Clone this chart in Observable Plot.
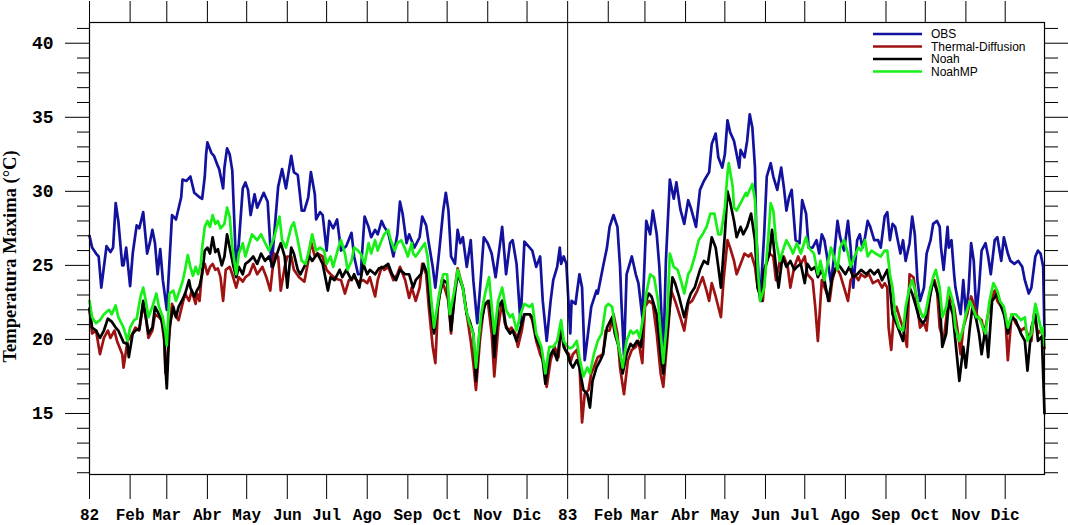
<!DOCTYPE html>
<html><head><meta charset="utf-8">
<script src="https://cdn.jsdelivr.net/npm/d3@7"></script>
<script src="https://cdn.jsdelivr.net/npm/@observablehq/plot@0.6"></script>
<style>body{margin:0;background:#fff}#chart{width:1068px;height:525px}</style>
</head><body><div id="chart"></div>
<script>
const seriesNames = ["OBS","Thermal-Diffusion","Noah","NoahMP"];
const seriesColors = ["#12129e","#9e1212","#000000","#16f016"];
const monthDays = [0,31,59,90,120,151,181,212,243,273,304,334,365,396,424,455,485,516,546,577,608,638,669,699];
const monthLabels = ["82","Feb","Mar","Abr","May","Jun","Jul","Ago","Sep","Oct","Nov","Dic","83","Feb","Mar","Abr","May","Jun","Jul","Ago","Sep","Oct","Nov","Dic"];
const yMajor = [15,20,25,30,35,40];
const yMinor = [11,12,13,14,16,17,18,19,21,22,23,24,26,27,28,29,31,32,33,34,36,37,38,39,41];
const yearBreak = [365];
const yLabel = "Temperatura Maxima (°C)";

// [day since 1 Jan 1982, temperature]
const obs = [[0,27.0],[2,26.2],[5,25.8],[7,25.6],[9,23.5],[13,26.3],[16,25.9],[18,26.2],[20,29.2],[22,28.0],[25,25.0],[26,25.0],[28,26.2],[31,23.6],[33,25.8],[36,27.7],[38,27.5],[41,28.6],[44,25.8],[46,26.5],[48,27.4],[50,26.5],[52,24.4],[54,26.1],[56,24.0],[59,22.0],[63,28.4],[66,28.1],[70,29.6],[71,30.8],[74,30.7],[77,31.0],[80,29.9],[84,29.6],[86,29.5],[88,31.0],[89,32.5],[90,33.3],[93,32.6],[95,32.4],[98,31.7],[99,31.5],[102,30.2],[103,31.6],[105,32.9],[107,32.5],[109,31.4],[112,24.7],[114,26.5],[117,30.2],[119,30.6],[121,30.1],[123,28.4],[126,29.8],[128,28.9],[131,29.5],[133,29.9],[136,29.3],[139,24.9],[141,27.1],[144,30.3],[147,31.5],[150,30.2],[154,32.4],[156,31.3],[159,31.1],[162,28.7],[164,28.7],[167,29.6],[169,31.3],[172,29.8],[173,28.1],[176,28.6],[178,28.4],[181,26.0],[183,28.0],[186,27.5],[189,28.1],[192,26.0],[196,26.3],[200,27.2],[202,25.6],[205,24.4],[207,24.4],[210,28.3],[213,27.6],[215,26.9],[218,27.4],[220,27.1],[223,28.0],[225,27.6],[228,27.2],[232,25.6],[235,27.1],[237,29.3],[239,28.5],[242,26.5],[244,27.1],[248,26.2],[252,26.9],[254,28.3],[257,27.7],[259,26.5],[262,24.9],[264,23.5],[267,26.0],[270,28.7],[272,29.9],[274,28.7],[276,25.6],[279,25.1],[281,27.4],[283,26.5],[285,26.9],[288,24.9],[291,26.7],[293,24.0],[296,21.1],[298,23.3],[301,26.9],[304,26.5],[307,25.8],[310,24.2],[313,26.2],[315,27.6],[318,24.4],[321,26.5],[323,26.7],[326,25.1],[329,21.1],[332,26.6],[336,26.2],[338,26.0],[341,24.9],[344,25.6],[346,22.6],[349,19.9],[352,22.6],[354,24.0],[357,24.9],[359,26.2],[360,25.1],[362,25.6],[364,25.1],[367,20.4],[368,22.6],[371,22.4],[372,23.1],[374,24.4],[376,23.5],[378,18.6],[380,20.0],[383,22.2],[387,23.3],[388,23.1],[392,24.9],[395,26.2],[397,27.6],[400,28.4],[403,27.6],[405,24.9],[406,22.6],[408,18.9],[410,24.4],[414,25.6],[417,24.4],[419,23.8],[422,21.5],[425,28.0],[428,27.1],[430,28.7],[433,27.1],[435,24.9],[438,18.8],[440,25.3],[443,30.8],[446,29.5],[448,30.6],[451,28.8],[454,27.8],[457,29.4],[459,28.9],[463,27.6],[466,30.1],[469,30.7],[473,31.3],[475,33.2],[478,33.9],[480,32.3],[483,31.6],[485,32.5],[487,34.8],[489,34.0],[492,33.4],[494,32.5],[496,31.6],[497,32.8],[500,32.3],[502,33.4],[504,35.2],[506,34.3],[508,31.6],[509,27.1],[511,23.8],[512,22.6],[515,27.1],[517,31.0],[520,31.9],[522,31.0],[525,30.1],[528,31.6],[530,30.3],[532,28.7],[534,29.6],[536,30.1],[539,26.7],[542,26.5],[544,29.4],[547,28.5],[549,26.2],[552,26.2],[555,26.7],[557,25.8],[559,27.1],[561,26.7],[563,25.6],[566,23.8],[568,25.3],[571,28.0],[573,26.9],[576,26.0],[579,28.0],[581,26.2],[583,23.5],[586,26.7],[588,27.1],[590,26.2],[592,26.9],[594,28.0],[596,27.6],[599,26.7],[602,26.7],[604,26.2],[607,28.3],[609,28.6],[611,26.7],[613,27.8],[615,27.6],[617,26.7],[619,25.8],[621,26.7],[623,25.3],[626,26.5],[628,28.3],[630,27.1],[632,24.0],[634,22.6],[637,23.5],[639,25.8],[642,26.7],[644,27.8],[647,28.0],[649,27.6],[650,26.2],[652,24.7],[655,27.6],[656,26.2],[658,26.7],[660,24.4],[661,23.5],[663,22.6],[665,21.7],[667,24.0],[669,21.7],[671,23.3],[673,26.5],[675,25.3],[677,21.7],[679,23.5],[681,26.0],[684,26.5],[686,25.6],[688,24.4],[691,26.7],[693,26.9],[696,25.3],[698,26.9],[701,25.8],[703,25.3],[706,25.1],[709,25.3],[712,24.9],[714,24.0],[717,23.1],[719,23.5],[722,25.6],[724,26.0],[726,25.8],[728,24.9],[729,20.2]];

const thermal = [[0,22.0],[2,20.4],[5,20.6],[8,19.0],[11,20.1],[14,20.6],[16,20.1],[19,20.6],[21,19.9],[25,19.0],[26,18.1],[29,19.9],[33,20.4],[35,20.8],[38,20.6],[41,22.4],[43,21.5],[45,20.1],[48,20.6],[50,21.7],[53,21.5],[55,21.3],[57,19.9],[58,17.7],[59,18.4],[61,20.4],[63,22.4],[65,21.7],[68,21.3],[71,22.4],[73,23.1],[76,22.6],[78,23.3],[81,22.4],[82,23.1],[84,22.6],[86,24.7],[88,25.1],[90,24.4],[92,24.9],[94,25.1],[96,24.7],[98,24.8],[100,24.2],[102,22.6],[104,24.7],[107,24.9],[109,24.4],[112,23.5],[114,24.2],[117,23.9],[119,24.2],[122,24.4],[125,25.1],[128,24.4],[132,24.9],[135,24.2],[138,23.3],[141,25.8],[144,25.6],[146,23.3],[149,24.9],[151,25.6],[154,25.6],[156,24.7],[160,24.2],[164,23.9],[167,25.3],[169,26.6],[172,25.6],[174,25.8],[178,25.6],[181,24.7],[184,24.4],[188,24.1],[192,24.0],[195,23.1],[198,24.0],[202,24.2],[205,23.9],[209,24.0],[212,23.8],[214,24.2],[218,22.9],[220,24.0],[223,24.9],[225,24.7],[228,24.9],[232,24.0],[235,24.4],[237,24.9],[241,24.0],[244,22.8],[246,23.5],[249,22.6],[252,23.5],[254,25.1],[257,24.4],[259,22.2],[262,19.5],[264,18.4],[266,22.2],[269,24.0],[271,23.5],[274,22.6],[276,20.4],[279,23.5],[281,24.8],[285,23.5],[288,21.7],[291,19.9],[293,18.4],[295,16.6],[298,19.9],[301,22.2],[304,22.6],[307,20.4],[309,17.5],[312,20.8],[315,22.6],[317,21.1],[320,20.6],[322,20.8],[325,20.4],[327,19.5],[330,20.6],[332,21.7],[336,21.7],[338,21.3],[341,19.9],[344,19.0],[347,18.4],[349,16.8],[352,18.6],[355,19.5],[358,18.8],[360,20.8],[363,19.3],[366,19.0],[367,18.4],[369,19.0],[372,19.3],[374,18.4],[376,14.4],[378,16.3],[381,16.6],[383,17.7],[385,18.1],[388,18.8],[392,19.0],[394,20.6],[397,20.6],[400,21.7],[403,20.4],[405,18.1],[408,16.3],[411,18.6],[414,19.3],[417,19.5],[419,19.9],[422,18.4],[424,22.2],[427,22.6],[430,22.4],[433,20.4],[436,17.7],[438,16.8],[441,19.9],[444,23.3],[447,22.6],[451,21.5],[454,20.6],[457,22.4],[460,22.6],[464,23.3],[468,24.2],[471,23.3],[473,22.6],[475,23.8],[478,22.9],[482,21.5],[484,24.0],[487,26.7],[489,26.2],[492,25.3],[494,24.4],[497,25.1],[500,25.8],[503,25.6],[505,25.8],[508,24.9],[510,23.5],[514,22.6],[516,24.9],[519,25.8],[522,25.6],[524,24.0],[527,25.3],[530,25.6],[533,24.9],[535,23.5],[538,24.9],[541,25.6],[543,25.1],[546,25.6],[548,24.4],[552,24.0],[554,22.2],[556,19.9],[559,24.0],[562,23.3],[565,22.6],[567,24.0],[570,24.9],[573,24.4],[576,23.5],[579,22.6],[581,24.0],[584,24.4],[587,24.0],[589,24.4],[592,24.2],[595,24.4],[598,23.8],[602,24.0],[605,23.5],[607,23.8],[609,23.5],[610,20.8],[612,19.3],[614,21.7],[616,22.2],[619,21.3],[621,20.8],[624,19.5],[626,24.4],[629,24.2],[632,22.2],[634,20.8],[637,21.1],[639,20.6],[642,23.5],[645,24.0],[647,23.3],[649,20.8],[652,19.9],[655,22.2],[657,22.9],[660,22.2],[663,20.4],[665,19.0],[667,20.8],[670,21.7],[673,22.9],[675,22.4],[678,21.5],[681,21.3],[683,20.4],[685,21.3],[688,22.6],[691,23.3],[693,22.6],[696,22.2],[699,21.7],[701,18.6],[704,21.7],[707,21.1],[711,20.6],[714,20.8],[716,20.4],[719,19.9],[721,21.7],[724,20.4],[726,20.6],[728,20.2],[729,19.4]];

const noah = [[0,22.1],[2,20.8],[5,20.6],[8,20.1],[11,20.6],[14,21.4],[17,21.2],[20,20.8],[22,20.6],[26,19.8],[29,19.7],[30,18.8],[33,20.4],[35,20.6],[38,20.7],[41,22.6],[43,21.5],[45,20.4],[48,20.8],[50,22.2],[53,21.7],[55,21.3],[57,20.4],[58,18.1],[59,16.7],[61,20.8],[64,22.2],[66,21.5],[68,22.2],[71,22.7],[73,23.1],[76,24.0],[77,23.5],[80,22.9],[82,23.3],[84,23.6],[86,24.4],[88,26.0],[90,26.2],[92,25.8],[94,26.9],[96,25.9],[98,26.1],[101,25.0],[103,25.6],[105,27.1],[107,26.2],[110,24.9],[112,24.2],[114,24.9],[117,24.4],[119,25.1],[122,25.3],[125,25.6],[128,25.1],[131,25.8],[134,25.3],[137,25.6],[140,24.9],[144,26.0],[146,26.5],[149,25.6],[151,23.5],[154,26.2],[156,25.8],[159,24.7],[161,24.4],[165,25.1],[168,25.6],[170,25.3],[174,25.8],[178,25.1],[182,23.3],[184,24.2],[187,24.0],[191,24.7],[193,24.2],[196,24.7],[200,24.0],[202,24.4],[206,23.5],[209,25.1],[212,24.4],[214,24.7],[218,24.4],[221,24.8],[225,24.9],[228,25.1],[231,24.4],[234,24.0],[237,24.7],[241,24.4],[244,24.4],[247,23.5],[249,24.0],[253,24.4],[255,25.1],[258,24.4],[260,22.2],[263,20.4],[267,22.9],[270,24.0],[273,23.8],[276,20.6],[279,23.1],[281,24.4],[285,23.5],[288,21.7],[290,21.3],[293,20.4],[295,17.2],[298,20.8],[302,22.4],[305,22.6],[308,20.8],[309,18.8],[312,22.2],[315,22.6],[318,20.8],[321,20.4],[323,20.6],[326,19.9],[329,20.8],[332,21.7],[336,21.7],[338,21.5],[341,20.1],[345,19.3],[348,17.0],[351,18.8],[354,19.3],[357,18.6],[360,20.8],[362,19.5],[365,19.0],[367,18.4],[369,18.1],[372,18.6],[374,18.1],[377,16.6],[380,16.3],[382,15.4],[384,17.2],[387,18.1],[390,18.6],[392,19.0],[395,20.8],[399,21.5],[401,20.4],[404,19.5],[407,17.7],[410,19.0],[413,19.7],[415,19.5],[418,19.9],[421,19.5],[423,22.2],[427,23.1],[429,22.9],[433,21.7],[436,19.0],[438,17.7],[441,20.4],[445,24.2],[447,23.8],[450,22.9],[454,21.5],[457,22.6],[459,23.1],[462,23.5],[466,24.7],[469,25.3],[472,25.1],[475,26.9],[478,26.2],[480,24.9],[482,23.5],[485,27.1],[487,30.0],[489,29.3],[492,28.0],[494,26.9],[497,27.6],[499,27.1],[502,27.6],[505,28.5],[508,26.7],[510,23.5],[513,22.6],[515,24.7],[519,25.8],[521,27.4],[524,24.9],[526,23.5],[529,25.6],[532,24.9],[535,25.3],[538,24.7],[540,24.9],[543,25.1],[546,23.8],[548,25.1],[551,24.7],[554,24.9],[556,24.2],[559,24.7],[561,24.0],[564,22.6],[567,24.2],[571,25.1],[573,24.9],[577,24.4],[580,24.9],[583,24.2],[586,24.4],[589,24.7],[593,24.4],[596,24.7],[599,24.4],[602,24.7],[605,24.0],[609,24.7],[611,23.5],[613,21.7],[615,21.3],[618,20.6],[621,19.9],[623,21.5],[626,23.5],[628,23.1],[631,22.2],[633,21.5],[636,21.1],[638,21.3],[641,22.6],[644,24.0],[646,23.5],[649,22.6],[651,19.5],[654,20.4],[656,22.6],[659,21.7],[661,19.9],[664,17.2],[667,19.5],[669,18.1],[672,20.8],[674,22.2],[677,21.3],[679,20.4],[681,19.0],[684,20.8],[686,18.8],[689,22.6],[693,23.1],[696,22.2],[698,21.7],[701,20.4],[704,21.5],[707,21.3],[711,20.4],[714,19.9],[716,17.9],[719,20.8],[722,21.7],[724,19.9],[727,20.2],[729,15.0]];

const noahmp = [[0,22.6],[2,21.5],[5,21.1],[8,21.3],[11,21.7],[15,22.0],[17,21.7],[20,22.3],[22,21.5],[26,20.8],[29,19.9],[31,20.8],[34,21.3],[36,21.4],[39,22.9],[41,23.5],[43,22.6],[45,21.5],[48,22.2],[51,23.1],[53,22.2],[56,21.5],[58,20.4],[59,19.6],[61,23.1],[64,23.3],[66,22.6],[68,23.1],[71,23.9],[73,24.7],[75,25.7],[77,24.9],[79,24.3],[81,24.9],[83,24.4],[85,25.1],[86,26.2],[88,27.6],[90,28.0],[92,27.6],[94,28.4],[96,27.8],[98,28.0],[100,27.5],[103,27.8],[105,28.9],[107,28.3],[109,26.2],[112,24.4],[114,25.8],[117,26.5],[119,25.6],[122,26.5],[124,27.1],[128,26.7],[131,27.1],[133,26.7],[137,26.0],[141,26.9],[145,28.3],[147,26.7],[150,26.2],[154,27.6],[156,27.9],[159,26.7],[162,25.3],[165,25.1],[168,26.2],[170,27.1],[173,26.0],[176,26.2],[179,26.0],[181,25.1],[184,25.6],[186,24.9],[190,26.2],[192,26.7],[195,25.8],[197,24.7],[200,25.3],[202,26.2],[205,26.0],[207,25.8],[210,25.1],[213,26.5],[215,25.8],[218,26.7],[220,26.0],[223,26.7],[225,27.1],[228,27.4],[230,26.7],[233,26.0],[235,26.5],[238,26.7],[241,26.1],[243,25.6],[246,26.5],[247,25.8],[249,25.6],[256,26.5],[258,25.6],[261,22.6],[263,20.8],[267,23.1],[270,24.4],[273,24.4],[275,21.7],[279,23.5],[281,24.7],[285,23.5],[287,22.2],[290,21.1],[293,20.4],[295,18.1],[299,21.7],[302,23.1],[305,24.2],[308,21.3],[309,20.4],[312,22.6],[315,23.5],[318,22.0],[321,21.5],[323,21.7],[326,20.6],[329,21.7],[332,22.4],[336,22.2],[338,22.4],[341,20.4],[345,19.5],[348,17.7],[351,19.5],[354,19.5],[357,19.9],[360,21.3],[362,19.9],[365,19.5],[367,19.4],[369,19.5],[372,19.9],[374,18.8],[377,17.5],[380,18.1],[382,17.7],[385,19.0],[388,19.9],[391,20.4],[394,22.2],[396,22.4],[399,22.2],[401,20.8],[404,19.5],[407,18.1],[410,19.9],[413,20.6],[415,20.4],[418,20.6],[420,20.1],[423,21.7],[425,23.1],[428,24.4],[431,24.2],[434,22.6],[436,20.4],[438,18.4],[441,21.5],[443,25.8],[446,24.9],[449,24.7],[452,23.8],[454,23.1],[457,24.4],[459,24.7],[462,25.6],[465,26.7],[468,27.1],[471,27.6],[474,28.5],[477,28.5],[480,27.1],[482,27.1],[485,28.9],[487,31.2],[488,31.9],[491,30.3],[492,28.9],[494,28.7],[497,29.2],[501,29.9],[502,29.7],[506,30.5],[508,29.4],[510,24.9],[512,22.6],[515,23.5],[518,26.7],[520,29.2],[522,28.7],[524,26.7],[527,25.3],[530,26.2],[532,26.7],[535,26.2],[537,25.8],[540,26.5],[543,25.8],[547,26.9],[549,26.2],[553,25.8],[556,24.4],[558,25.3],[561,24.0],[563,24.9],[566,26.2],[568,25.6],[571,24.7],[573,26.2],[576,26.7],[579,25.8],[581,24.9],[584,25.6],[587,26.2],[589,26.0],[592,26.7],[594,25.6],[597,26.0],[600,25.8],[604,25.6],[607,26.0],[609,26.0],[611,24.4],[613,23.5],[614,22.6],[615,21.7],[618,20.8],[621,20.6],[623,22.2],[626,23.5],[628,24.0],[631,23.1],[633,22.2],[636,21.5],[638,21.7],[641,23.1],[644,24.2],[646,24.7],[649,23.5],[651,21.5],[654,22.2],[656,23.5],[659,22.6],[661,20.8],[664,19.9],[667,20.8],[669,21.7],[672,22.6],[674,22.2],[677,21.5],[679,21.5],[682,20.8],[684,20.4],[687,22.6],[690,23.8],[693,23.3],[695,22.6],[698,22.2],[701,20.8],[704,21.7],[707,21.7],[711,21.3],[714,21.5],[716,19.9],[719,20.4],[722,22.4],[724,21.7],[727,20.4],[728,20.8],[729,19.6]];

const seriesData = [obs, thermal, noah, noahmp];
const rows = seriesData.flatMap((s, k) => s.map(([day, value]) => ({series: seriesNames[k], day, value})));

const W = 1068, H = 525, ML = 89, MR = 24, MT = 22, MB = 51;
const monoFont = "'Liberation Mono', 'Courier New', monospace";

const chart = Plot.plot({
  width: W, height: H,
  marginLeft: ML, marginRight: MR, marginTop: MT, marginBottom: MB,
  style: {background: "#fff", overflow: "visible", color: "#000"},
  x: {domain: [0, 729], axis: null},
  y: {domain: [10.88, 41.4], axis: null},
  color: {domain: seriesNames, range: seriesColors},
  marks: [
    Plot.line(rows, {x: "day", y: "value", z: "series", stroke: "series", strokeWidth: 2.7, strokeLinejoin: "round"}),
    Plot.ruleX(yearBreak, {stroke: "#000", strokeWidth: 1}),
    Plot.frame({stroke: "#000", strokeWidth: 1.2}),
    // left axis
    Plot.axisY({ticks: yMajor, anchor: "left", tickSize: 24, text: null, label: null}),
    Plot.axisY({ticks: yMinor, anchor: "left", tickSize: 12, text: null, label: null}),
    Plot.text(yMajor, {y: d => d, text: d => String(d), frameAnchor: "left", dx: -36, textAnchor: "end", lineAnchor: "middle",
      fontFamily: monoFont, fontWeight: "bold", fontSize: 18, fill: "#000"}),
    // right axis
    Plot.axisY({ticks: yMajor, anchor: "right", tickSize: 24, text: null, label: null}),
    Plot.axisY({ticks: yMinor, anchor: "right", tickSize: 13, text: null, label: null}),
    // bottom & top axes
    Plot.axisX({ticks: monthDays, anchor: "bottom", tickSize: 25, text: null, label: null}),
    Plot.text(monthDays, {x: d => d, text: d => monthLabels[monthDays.indexOf(d)], frameAnchor: "bottom", dy: 34, lineAnchor: "top",
      fontFamily: monoFont, fontWeight: "bold", fontSize: 16, fill: "#000"}),
    Plot.axisX({ticks: monthDays, anchor: "top", tickSize: 22, text: null, label: null}),
    Plot.text([yLabel], {text: d => d, frameAnchor: "left", textAnchor: "middle", dx: -79, dy: 8, rotate: -90,
      fontFamily: "'Liberation Serif', 'Times New Roman', serif", fontWeight: "bold", fontSize: 18.5, fill: "#000"})
  ]
});

// legend inside the plot frame, top-right
const svg = d3.select(chart);
const lg = svg.append("g").attr("font-family", "'Liberation Sans', Arial, sans-serif")
  .attr("font-size", 12).attr("text-anchor", "start");
const lx = W - MR - 171, ly = MT + 12;
seriesNames.forEach((name, i) => {
  const y = ly + i * 12.5;
  lg.append("line").attr("x1", lx).attr("x2", lx + 49).attr("y1", y).attr("y2", y)
    .attr("stroke", seriesColors[i]).attr("stroke-width", 2.6);
  lg.append("text").attr("x", lx + 58).attr("y", y).attr("dy", "0.35em").attr("fill", "#000").text(name);
});

document.getElementById("chart").appendChild(chart);
</script>
</body></html>
